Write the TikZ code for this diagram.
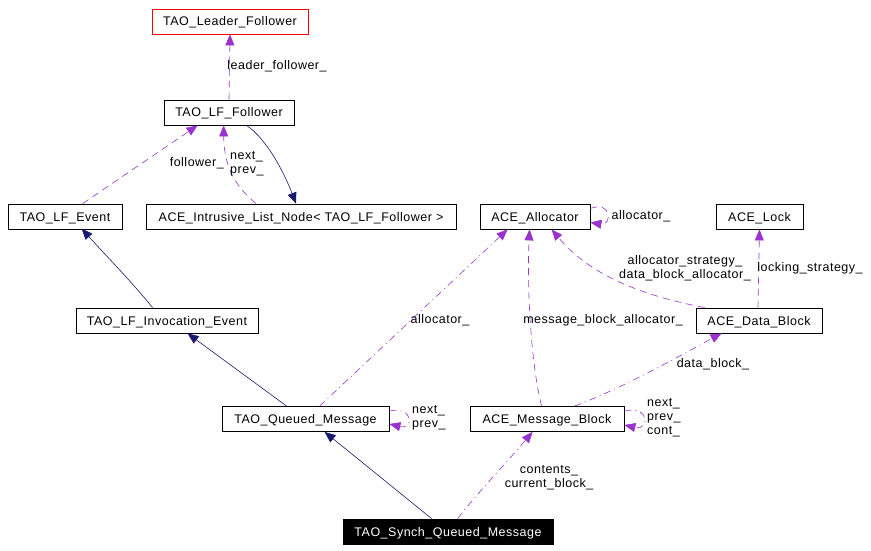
\documentclass[tikz,border=0pt]{standalone}
\usepackage{fontspec}
\setmainfont[LetterSpace=4]{Liberation Sans}
\usetikzlibrary{arrows.meta,calc}
\definecolor{pur}{HTML}{9A32CD}
\definecolor{nav}{HTML}{191970}
\tikzset{
  box/.style={draw=black, line width=0.8pt, minimum height=25pt, inner xsep=6pt, text height=9pt, text depth=0pt, font=\fontsize{12.5}{14}\selectfont, anchor=center},
  lbl/.style={font=\fontsize{12.5}{14}\selectfont, inner sep=0pt, align=left},
  tip/.style={-{Triangle[length=11pt,width=9pt]}},
  uses/.style={tip, draw=pur, line width=0.6pt, dash pattern=on 7pt off 5pt},
  usesdd/.style={tip, draw=pur, line width=0.6pt, dash pattern=on 7pt off 4pt on 1pt off 4pt},
  inh/.style={tip, draw=nav, line width=0.6pt},
}
\begin{document}
\begin{tikzpicture}[x=1pt,y=-1pt]
\useasboundingbox (0,0) rectangle (871,551);
% nodes
\node[box, draw=red, minimum width=156pt] (leader) at (230,21.5) {TAO\_Leader\_Follower};
\node[box, minimum width=130pt] (follower) at (229,112.5) {TAO\_LF\_Follower};
\node[box, minimum width=114pt] (event) at (65,216.5) {TAO\_LF\_Event};
\node[box, minimum width=310pt] (inode) at (301,216.5) {ACE\_Intrusive\_List\_Node< TAO\_LF\_Follower >};
\node[box, minimum width=110pt] (alloc) at (535,216.5) {ACE\_Allocator};
\node[box, minimum width=87pt] (lock) at (759.5,216.5) {ACE\_Lock};
\node[box, minimum width=182pt] (invoc) at (167,320.5) {TAO\_LF\_Invocation\_Event};
\node[box, minimum width=126pt] (dblock) at (759,320.5) {ACE\_Data\_Block};
\node[box, minimum width=167pt] (queued) at (305.5,419) {TAO\_Queued\_Message};
\node[box, minimum width=154pt] (mblock) at (547,419) {ACE\_Message\_Block};
\node[box, fill=black, text=white, minimum width=210pt] (synch) at (448,531.5) {TAO\_Synch\_Queued\_Message};

% edges
\draw[uses] (follower.north) -- (leader.south);
\node[lbl] (lf) at (277,66) {leader\_follower\_};

\draw[uses] ($(event.north west)+(75,0)$) -- ($(follower.south west)+(34,0)$);
\node[lbl, anchor=east] (lfol) at (224,163) {follower\_};

\draw[uses] ($(inode.north)+(-45,0)$) .. controls (240,190) and (224,172) .. ($(follower.south west)+(60,0)$);
\node[lbl, anchor=west] (lnp) at (230,164) {next\_\\prev\_};

\draw[inh] ($(follower.south west)+(83,0)$) .. controls (268,140) and (285,175) .. ($(inode.north)+(-5,0)$);

\draw[inh] ($(invoc.north west)+(77,0)$) .. controls (130,280) and (110,260) .. ($(event.north west)+(74,25)$);

\draw[inh] ($(queued.north west)+(65,0)$) -- ($(invoc.south west)+(112,0)$);

\draw[inh] ($(synch.north west)+(89,0)$) -- ($(queued.south west)+(103,0)$);

\draw[usesdd] ($(queued.north west)+(98,0)$) -- ($(alloc.south west)+(28,0)$);
\node[lbl] (lal) at (440,320) {allocator\_};

\draw[uses] ($(alloc.east)+(0,-8)$) .. controls (612,200) and (612,226) .. ($(alloc.east)+(0,6)$);
\node[lbl] (lals) at (641,216) {allocator\_};

\draw[uses] ($(mblock.north west)+(72,0)$) .. controls (530,360) and (527,280) .. ($(alloc.south west)+(50,0)$);
\node[lbl] (lmba) at (603,320) {message\_block\_allocator\_};

\draw[uses] ($(dblock.north west)+(9,0)$) .. controls (640,295) and (590,275) .. ($(alloc.south west)+(72,0)$);
\node[lbl, align=center] (lads) at (685,268) {allocator\_strategy\_\\data\_block\_allocator\_};

\draw[uses] ($(dblock.north)+(-1,0)$) -- (lock.south);
\node[lbl] (llock) at (810,268) {locking\_strategy\_};

\draw[usesdd] ($(mblock.north west)+(105,0)$) .. controls (630,385) and (690,350) .. ($(dblock.south west)+(26,0)$);
\node[lbl] (ldb) at (713,364) {data\_block\_};

\draw[usesdd] ($(queued.east)+(0,-8)$) .. controls (414,406) and (414,430) .. ($(queued.east)+(0,5)$);
\node[lbl, anchor=west] (lqnp) at (412,418) {next\_\\prev\_};

\draw[usesdd] ($(mblock.east)+(0,-8)$) .. controls (650,405) and (650,431) .. ($(mblock.east)+(0,6)$);
\node[lbl, anchor=west] (lmnp) at (647,418) {next\_\\prev\_\\cont\_};

\draw[usesdd] ($(synch.north west)+(115,0)$) .. controls (480,490) and (500,470) .. ($(mblock.south west)+(63,0)$);
\node[lbl, align=center] (lcc) at (549,478) {contents\_\\current\_block\_};
\end{tikzpicture}
\end{document}
